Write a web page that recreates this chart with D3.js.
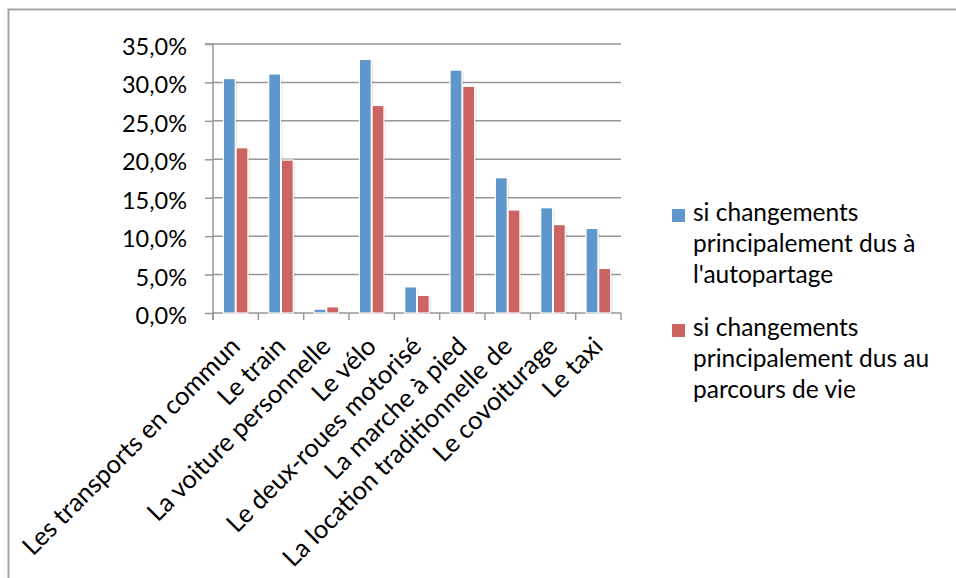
<!DOCTYPE html>
<html><head><meta charset="utf-8">
<script src="https://cdn.jsdelivr.net/npm/d3@7"></script>
<style>
html,body{margin:0;padding:0;background:#fff;}
svg{display:block;font-family:Lato, "Open Sans", sans-serif;}
</style></head>
<body>
<svg id="chart" width="956" height="578"></svg>
<script>
const categories = ["Les transports en commun","Le train","La voiture personnelle","Le vélo","Le deux-roues motorisé","La marche à pied","La location traditionnelle de","Le covoiturage","Le taxi"];
const seriesNames = [
  ["si changements","principalement dus à","l'autopartage"],
  ["si changements","principalement dus au","parcours de vie"]
];
const autopartage = [30.5, 31.1, 0.5, 33.0, 3.4, 31.6, 17.6, 13.7, 11.0];
const parcoursDeVie = [21.5, 19.9, 0.8, 27.0, 2.3, 29.5, 13.4, 11.5, 5.8];
const yTicks = [0, 5, 10, 15, 20, 25, 30, 35];
const colors = ["#5F96CB", "#CC6561"];

const svg = d3.select("#chart");
const W = 956, H = 578;
const plot = {left: 213, right: 621, top: 44, bottom: 313};

// outer frame (partially visible)
svg.append("path").attr("d", `M8.5,${H} L8.5,9.5 L${W},9.5`)
  .attr("fill","none").attr("stroke","#a6a6a6").attr("stroke-width",2);

const x = d3.scaleBand().domain(categories).range([plot.left, plot.right]).paddingInner(0).paddingOuter(0);
const y = d3.scaleLinear().domain([0, 35]).range([plot.bottom, plot.top]);
const xs = d3.scaleBand().domain([0,1]).range([0, x.bandwidth()]).paddingInner(0.06).paddingOuter(0.82);

// gridlines
svg.append("g").selectAll("line").data(yTicks.filter(d=>d>0)).join("line")
  .attr("x1", plot.left).attr("x2", plot.right)
  .attr("y1", d=>y(d)).attr("y2", d=>y(d))
  .attr("stroke","#979797").attr("stroke-width",1.5);

// y axis
const yAxis = d3.axisLeft(y).tickValues(yTicks).tickSize(8).tickPadding(18)
  .tickFormat(d => d3.format(".1f")(d).replace(".", ",") + "%");
const gy = svg.append("g").attr("transform", `translate(${plot.left},0)`).call(yAxis);
gy.select(".domain").attr("d", `M-8,${plot.top}H0V${plot.bottom+7}`).attr("stroke","#979797").attr("stroke-width",1.5);
gy.selectAll(".tick line").attr("stroke","#979797").attr("stroke-width",1.5);
gy.selectAll(".tick text").attr("font-size",23.5).attr("fill","#000").attr("font-family","Lato")
  .attr("y", 3);

// x axis
const gx = svg.append("g").attr("transform", `translate(0,${plot.bottom})`);
gx.append("line").attr("x1", plot.left).attr("x2", plot.right).attr("y1",0).attr("y2",0)
  .attr("stroke","#979797").attr("stroke-width",1.5);
const bounds = categories.map(c => x(c)).concat([plot.right]);
gx.selectAll("line.tk").data(bounds).join("line").attr("class","tk")
  .attr("x1", d=>d).attr("x2", d=>d).attr("y1",0).attr("y2",7)
  .attr("stroke","#979797").attr("stroke-width",1.5);
gx.selectAll("text").data(categories).join("text")
  .attr("transform", d => `translate(${x(d) + x.bandwidth()/2 + 6},${35}) rotate(-45)`)
  .attr("text-anchor","end").attr("font-size",25.5).attr("fill","#000")
  .text(d=>d);

// bars
const data = categories.map((c,i)=>({c, vals:[autopartage[i], parcoursDeVie[i]]}));
const groups = svg.append("g").selectAll("g").data(data).join("g")
  .attr("transform", d=>`translate(${x(d.c)},0)`);
groups.selectAll("rect.sh").data(d=>d.vals).join("rect").attr("class","sh")
  .attr("x",(v,i)=>xs(i)+2).attr("y",v=>y(v)+2)
  .attr("width",xs.bandwidth()).attr("height",v=>plot.bottom-y(v)-2)
  .attr("fill","#000").attr("opacity",0.08);
groups.selectAll("rect.bar").data(d=>d.vals).join("rect").attr("class","bar")
  .attr("x",(v,i)=>xs(i)).attr("y",v=>y(v))
  .attr("width",xs.bandwidth()).attr("height",v=>plot.bottom-y(v))
  .attr("fill",(v,i)=>colors[i]).attr("stroke","#fff").attr("stroke-width",1.2);

// legend
const legendTop = [209, 324];
const lg = svg.append("g");
seriesNames.forEach((lines, i) => {
  lg.append("rect").attr("x",672).attr("y",legendTop[i]).attr("width",13).attr("height",13).attr("fill",colors[i]);
  const t = lg.append("text").attr("x",693).attr("y",legendTop[i]+12).attr("font-size",24.5).attr("fill","#000");
  lines.forEach((l,j)=> t.append("tspan").attr("x",693).attr("dy", j===0?0:31).text(l));
});
</script>
</body></html>
